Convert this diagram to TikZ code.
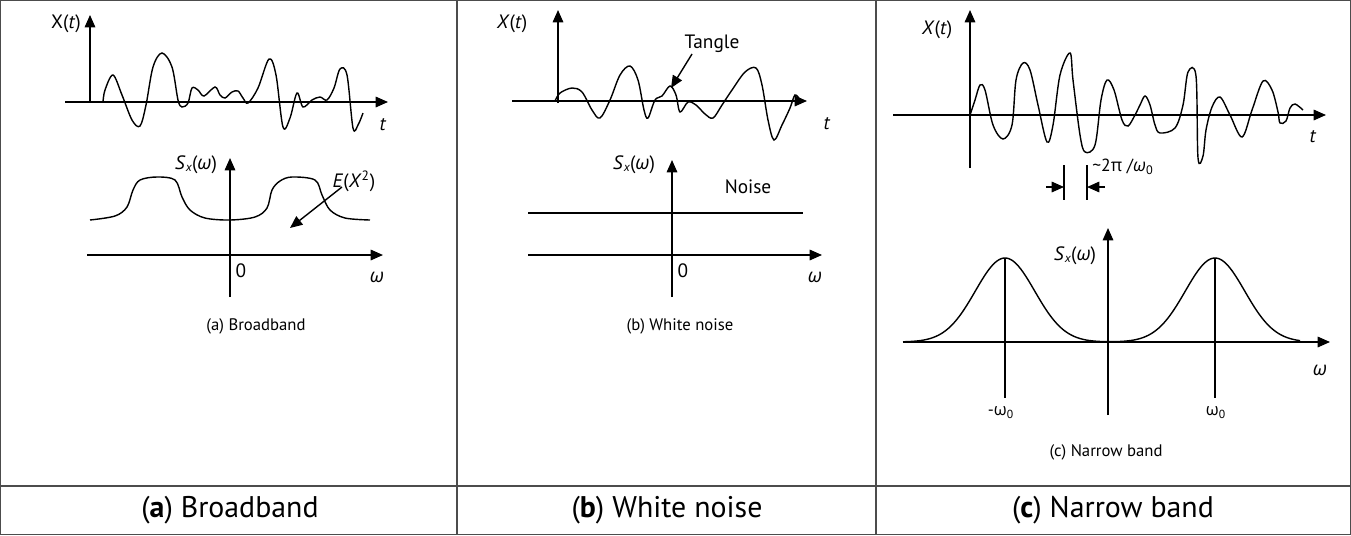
\documentclass[tikz,border=0pt]{standalone}
\usepackage{fontspec}
\setmainfont{PT Sans}
\newfontfamily\gr{Open Sans}
\newcommand{\omi}{{\gr\itshape ω}}
\newcommand{\omu}{{\gr ω}}
\usetikzlibrary{arrows.meta}
\begin{document}
\begin{tikzpicture}[x=0.02cm,y=-0.02cm,
  ax/.style={line width=0.8pt,-{Triangle[length=7pt,width=6pt]}},
  wave/.style={line width=0.8pt,smooth,tension=0.55},
  lbl/.style={font=\fontsize{11}{12}\selectfont,inner sep=0pt},
  captxt/.style={font=\fontsize{9.5}{11}\selectfont,inner sep=0pt},
  big/.style={font=\fontsize{17}{19}\selectfont,inner sep=0pt},
  frame/.style={draw=black!70,line width=0.8pt}]
\useasboundingbox (0,0) rectangle (1351,535);
\draw[frame] (0.5,0.5) rectangle (1350.5,534.5);
\draw[frame] (457,0) -- (457,535) (876,0) -- (876,535) (0,486) -- (1351,486);
\node[big] (ca) at (230,510) {(\textbf{a}) Broadband};
\node[big] (cb) at (667,510) {(\textbf{b}) White noise};
\node[big] (cc) at (1113,510) {(\textbf{c}) Narrow band};
% ---------- panel a
\coordinate (a1) at (65,102); \coordinate (a2) at (388,102);
\coordinate (a3) at (90,102); \coordinate (a4) at (90,15);
\draw[ax] (a1) -- (a2); \draw[ax] (a3) -- (a4);
\node[lbl] (xa) at (66,24) {X(\textit{t})};
\node[lbl] (ta) at (383,125) {\textit{t}};
\draw[wave] plot coordinates {(103,102)(105,90)(113,75)(122,95)(132,120)(140,126)(146,105)(153,67)(162,53)(172,67)(178,100)(182,107)(188,103)(192,88)(198,90)(204,96)(215,87)(220,95)(225,98)(232,92)(238,91)(243,98)(248,103)(258,88)(269,59)(276,75)(283,127)(290,118)(297,93)(303,107)(312,100)(320,97)(327,100)(334,88)(340,69)(347,75)(353,128)(358,125)(363,113)};
\coordinate (b1) at (87,255); \coordinate (b2) at (383,255);
\coordinate (b3) at (230,297); \coordinate (b4) at (230,158);
\draw[ax] (b1) -- (b2); \draw[ax] (b3) -- (b4);
\draw[wave] plot coordinates {(90,220)(115,216)(127,207)(133,190)(140,180)(157,177)(175,180)(182,197)(190,210)(205,218)(230,220)(255,217)(267,208)(272,190)(280,181)(292,177)(315,180)(322,195)(330,210)(345,218)(370,220)};
\node[lbl] (sa) at (196,165) {\textit{S}\raisebox{-0.2ex}{\scriptsize\textit{x}}(\omi)};
\node[lbl] (ea) at (354,181) {\textit{E}(\textit{X}\textsuperscript{2})};
\coordinate (ea1) at (342,187); \coordinate (ea2) at (290,228);
\draw[ax] (ea1) -- (ea2);
\node[lbl] (za) at (241,271) {0};
\node[lbl] (wa) at (377,277) {\omi};
\node[captxt] (pa) at (256,326) {(a) Broadband};
% ---------- panel b
\coordinate (c1) at (512,101); \coordinate (c2) at (807,101);
\coordinate (c3) at (558,103); \coordinate (c4) at (558,10);
\draw[ax] (c1) -- (c2); \draw[ax] (c3) -- (c4);
\node[lbl] (xb) at (512,24) {\textit{X}(\textit{t})};
\node[lbl] (tb) at (827,124) {\textit{t}};
\draw[wave] plot coordinates {(555,101)(560,93)(572,88)(582,92)(592,110)(600,118)(610,100)(620,75)(630,66)(638,80)(644,110)(648,118)(655,100)(662,96)(670,86)(676,95)(680,112)(688,102)(696,105)(705,114)(713,118)(722,105)(732,90)(745,72)(756,68)(762,85)(768,120)(774,140)(782,125)(790,108)(795,95)(800,100)};
\node[lbl] (tg) at (712,44) {Tangle};
\coordinate (tg1) at (692,54); \coordinate (tg2) at (671,88);
\draw[ax] (tg1) -- (tg2);
\coordinate (d1) at (528,255); \coordinate (d2) at (822,255);
\coordinate (d3) at (672,297); \coordinate (d4) at (672,160);
\draw[ax] (d1) -- (d2); \draw[ax] (d3) -- (d4);
\coordinate (n1) at (528,213); \coordinate (n2) at (803,213);
\draw[line width=0.8pt] (n1) -- (n2);
\node[lbl] (sb) at (634,165) {\textit{S}\raisebox{-0.2ex}{\scriptsize\textit{x}}(\omi)};
\node[lbl] (nb) at (748,187) {Noise};
\node[lbl] (zb) at (683,271) {0};
\node[lbl] (wb) at (815,277) {\omi};
\node[captxt] (pb) at (680,326) {(b) White noise};
% ---------- panel c
\coordinate (e1) at (893,115); \coordinate (e2) at (1326,115);
\coordinate (e3) at (970,168); \coordinate (e4) at (970,10);
\draw[ax] (e1) -- (e2); \draw[ax] (e3) -- (e4);
\node[lbl] (xc) at (937,30) {\textit{X}(\textit{t})};
\node[lbl] (tc) at (1313,137) {\textit{t}};
\draw[wave] plot coordinates {(970,115)(975,100)(980,85)(985,90)(993,125)(1003,139)(1012,125)(1016,80)(1023,63)(1030,70)(1038,105)(1047,142)(1053,125)(1060,75)(1070,53)(1073,80)(1080,135)(1085,152)(1095,145)(1101,100)(1107,80)(1114,90)(1122,120)(1128,126)(1135,115)(1140,105)(1145,96)(1150,105)(1155,125)(1160,133)(1175,128)(1183,105)(1188,72)(1196,76)(1198,158)(1203,156)(1206,130)(1212,107)(1220,97)(1230,115)(1242,137)(1252,110)(1263,81)(1272,90)(1278,112)(1280,123)(1286,121)(1290,108)(1295,104)(1303,110)};
\coordinate (m1) at (1064,165); \coordinate (m2) at (1064,200);
\coordinate (m3) at (1087,165); \coordinate (m4) at (1087,200);
\draw[line width=0.8pt] (m1) -- (m2) (m3) -- (m4);
\coordinate (m5) at (1046,187); \coordinate (m6) at (1105,187);
\coordinate (m7) at (1064,187); \coordinate (m8) at (1087,187);
\draw[ax] (m5) -- (m7);
\draw[ax] (m6) -- (m8);
\node[lbl,anchor=west] (pc) at (1092,167) {\fontsize{10}{11}\selectfont\textasciitilde 2{\gr π} /\omi\textsubscript{0}};
\coordinate (f1) at (903,342); \coordinate (f2) at (1330,342);
\coordinate (f3) at (1108,415); \coordinate (f4) at (1108,228);
\draw[ax] (f1) -- (f2); \draw[ax] (f3) -- (f4);
\draw[line width=0.8pt,domain=903:1300,samples=200] plot (\x,{342-84*(exp(-((\x-1005)/42)^2)+exp(-((\x-1215)/42)^2))});
\coordinate (g1) at (1005,258); \coordinate (g2) at (1005,398);
\coordinate (g3) at (1215,258); \coordinate (g4) at (1215,398);
\draw[line width=0.8pt] (g1) -- (g2) (g3) -- (g4);
\node[lbl] (sc) at (1075,256) {\textit{S}\raisebox{-0.2ex}{\scriptsize\textit{x}}(\omi)};
\node[captxt] (mw) at (1001,413) {-\omu\textsubscript{0}};
\node[captxt] (pw) at (1216,413) {\omu\textsubscript{0}};
\node[lbl] (wc) at (1320,370) {\omi};
\node[captxt] (pc2) at (1106,452) {(c) Narrow band};
\end{tikzpicture}
\end{document}
